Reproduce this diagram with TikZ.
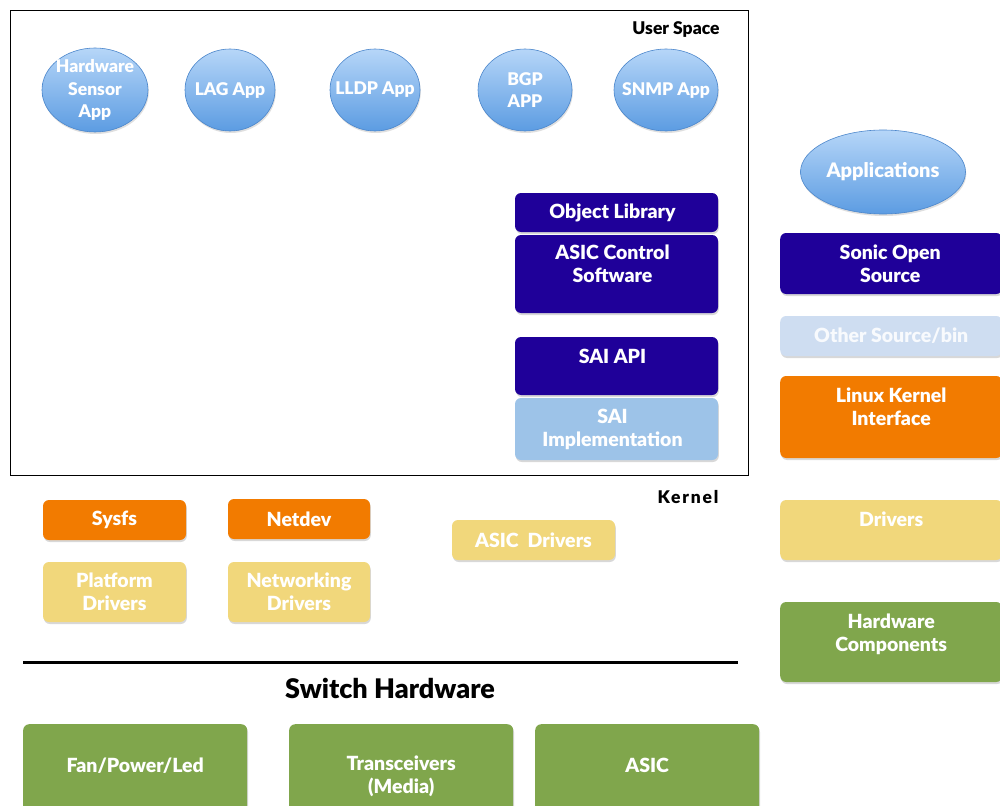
\documentclass[tikz,border=0pt]{standalone}
\usepackage{fontspec}
\setmainfont{Lato}[BoldFont={Lato Black}]
\usetikzlibrary{shapes.geometric,shadows}
\definecolor{navy}{HTML}{1F0099}
\definecolor{kern}{HTML}{F27B00}
\definecolor{drv}{HTML}{F1D77B}
\definecolor{hw}{HTML}{80A64C}
\definecolor{saiimpl}{HTML}{9DC3E8}
\definecolor{othersrc}{HTML}{CEDDF1}
\definecolor{appTop}{HTML}{B6D6F8}
\definecolor{appBot}{HTML}{5C9CE2}
\definecolor{appEdge}{HTML}{4B86CB}
\tikzset{
  bx/.style={rectangle, rounded corners=6pt, draw=none, inner sep=0pt,
    drop shadow={shadow xshift=0.8pt, shadow yshift=-2pt, opacity=0.3}},
  lb/.style={text=white, align=center, font=\bfseries\fontsize{19.5}{23}\selectfont, inner sep=0pt},
  app/.style={ellipse, inner sep=0pt, draw=appEdge, line width=0.6pt,
    top color=appTop, bottom color=appBot,
    drop shadow={shadow xshift=0.8pt, shadow yshift=-2pt, opacity=0.25}},
  albl/.style={text=white, align=center, font=\bfseries\fontsize{17.5}{22.5}\selectfont, inner sep=0pt},
  regionlbl/.style={text=black, font=\bfseries\fontsize{17.5}{20}\selectfont, inner sep=0pt},
}
\begin{document}
\begin{tikzpicture}[x=1pt,y=-1pt]
\clip (0,0) rectangle (1000,805);
\fill[white] (0,0) rectangle (1000,805);

% user space frame
\node[draw=black, line width=1.4pt, minimum width=738pt, minimum height=465pt,
      anchor=north west, inner sep=0pt] (us) at (10,10) {};
\node[regionlbl] (uslbl) at (676,29) {User Space};

% applications
\node[app, minimum width=106pt, minimum height=84pt, label={[albl]center:Hardware\\Sensor\\App}] (hwsens) at (95,90) {};
\node[app, minimum width=90pt, minimum height=82pt, label={[albl]center:LAG App}] (lag) at (230,90) {};
\node[app, minimum width=90pt, minimum height=82pt, label={[albl]center:LLDP App}] (lldp) at (375,90) {};
\node[app, minimum width=94pt, minimum height=82pt, label={[albl]center:BGP\\APP}] (bgp) at (525,90) {};
\node[app, minimum width=104pt, minimum height=82pt, label={[albl]center:SNMP App}] (snmp) at (666,90) {};

% SONiC stack inside user space
\node[bx, fill=navy, minimum width=203pt, minimum height=39pt, label={[lb,xshift=-4pt]center:Object Library}] (objlib) at (616.5,212.5) {};
\node[bx, fill=navy, minimum width=203pt, minimum height=78pt, label={[lb,xshift=-4pt,yshift=10pt]center:ASIC Control\\Software}] (acs) at (616.5,274) {};
\node[bx, fill=navy, minimum width=203pt, minimum height=58pt, label={[lb,xshift=-4pt,yshift=10pt]center:SAI API}] (saiapi) at (616.5,366) {};
\node[bx, fill=saiimpl, minimum width=203pt, minimum height=62pt, label={[lb,xshift=-4pt]center:SAI\\Implementation}] (saiimp) at (616.5,429) {};

% legend
\node[app, minimum width=165pt, minimum height=84pt, label={[albl,font=\bfseries\fontsize{20}{22}\selectfont]center:Applications}] (lgapps) at (883,172) {};
\node[bx, fill=navy, minimum width=222pt, minimum height=61pt, anchor=west, label={[lb,xshift=-1pt]center:Sonic Open\\Source}] (lgsonic) at (780,263.5) {};
\node[bx, fill=othersrc, minimum width=222pt, minimum height=40pt, anchor=west, label={[lb,text=white!85!othersrc]center:Other Source/bin}] (lgother) at (780,336) {};
\node[bx, fill=kern, minimum width=222pt, minimum height=82pt, anchor=west, label={[lb,yshift=10pt]center:Linux Kernel\\Interface}] (lgkern) at (780,417) {};
\node[bx, fill=drv, minimum width=222pt, minimum height=60pt, anchor=west, label={[lb,yshift=11pt]center:Drivers}] (lgdrv) at (780,530) {};
\node[bx, fill=hw, minimum width=222pt, minimum height=80pt, anchor=west, label={[lb,yshift=8pt]center:Hardware\\Components}] (lghw) at (780,642) {};

% kernel space
\node[regionlbl, font=\bfseries\fontsize{17.5}{20}\selectfont\addfontfeature{LetterSpace=10}] (klbl) at (688,497) {Kernel};
\node[bx, fill=kern, minimum width=143pt, minimum height=40pt, label={[lb]center:Sysfs}] (sysfs) at (114.5,520) {};
\node[bx, fill=kern, minimum width=142pt, minimum height=40pt, label={[lb]center:Netdev}] (netdev) at (299,519) {};
\node[bx, fill=drv, minimum width=143pt, minimum height=60pt, label={[lb]center:Platform\\Drivers}] (platdrv) at (114.5,592) {};
\node[bx, fill=drv, minimum width=142pt, minimum height=60pt, label={[lb]center:Networking\\Drivers}] (netdrv) at (299,592) {};
\node[bx, fill=drv, minimum width=163pt, minimum height=40pt, label={[lb]center:ASIC\ \ Drivers}] (asicdrv) at (533.5,540) {};

% hardware boundary
\coordinate (hwl) at (23,662);
\coordinate (hwr) at (738,662);
\draw[line width=3pt] (hwl) -- (hwr);
\node[text=black, font=\bfseries\fontsize{27}{30}\selectfont, inner sep=0pt] (swhw) at (390,688) {Switch Hardware};

% switch hardware components
\node[bx, fill=hw, minimum width=224pt, minimum height=90pt, anchor=north west, label={[lb,yshift=4pt]center:Fan/Power/Led}] (fan) at (23,724) {};
\node[bx, fill=hw, minimum width=224pt, minimum height=90pt, anchor=north west, label={[lb,yshift=-7pt]center:Transceivers\\(Media)}] (xcvr) at (289,724) {};
\node[bx, fill=hw, minimum width=224pt, minimum height=90pt, anchor=north west, label={[lb,yshift=4pt]center:ASIC}] (asic) at (535,724) {};
\end{tikzpicture}
\end{document}
